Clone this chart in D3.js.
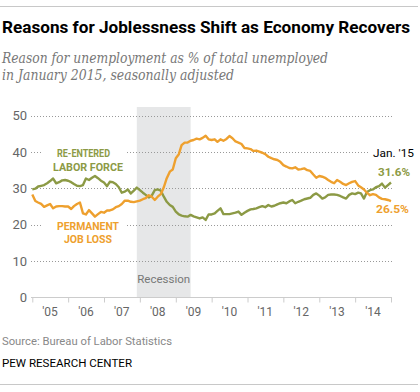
<!DOCTYPE html>
<html><head><meta charset="utf-8">
<script src="https://cdn.jsdelivr.net/npm/d3@7"></script>
<style>body{margin:0;background:#fff}svg{display:block}</style>
</head><body>
<svg id="c" width="420" height="392"></svg>
<script>
const startYear = 2005;
const yearLabels = ["'05","'06","'07","'08","'09","'10","'11","'12","'13","'14"];
const yTicks = [0,10,20,30,40,50];
const recession = [new Date(2007,11,1), new Date(2009,5,1)];
// Monthly values, Jan 2005 .. Jan 2015
const reentered = [
29.7,29.9,30.5,30.7,30.9,31.4,32.0,32.7,31.4,31.7,32.2,32.3,
32.1,31.7,31.2,30.7,30.6,30.9,32.7,32.3,32.9,33.4,32.8,32.1,
31.6,30.6,31.8,31.7,31.2,30.3,28.8,29.1,29.7,28.6,29.4,30.2,
29.5,28.8,28.2,27.5,28.0,29.5,29.7,29.4,27.7,26.3,25.4,24.9,
23.6,22.8,22.5,22.3,22.2,22.7,22.3,22.0,21.7,22.0,21.3,22.8,
22.8,23.1,23.8,24.5,22.9,22.9,22.9,23.1,23.3,23.6,22.7,23.3,
23.8,24.2,24.3,24.5,24.8,25.1,24.8,25.4,25.0,25.2,25.6,25.9,
26.1,25.9,26.4,26.8,25.9,26.3,26.6,27.0,27.2,27.4,28.2,28.6,
28.0,27.2,27.5,28.2,28.3,28.3,28.2,27.9,27.5,27.2,28.2,28.6,
28.4,28.8,28.6,27.2,29.0,29.5,29.7,30.3,30.6,31.3,30.2,30.9,
31.6];
const permanent = [
28.3,26.5,26.1,25.7,24.9,25.3,25.7,24.5,25.0,25.1,25.1,25.0,
25.0,24.3,25.1,25.7,26.1,23.1,22.8,24.0,23.1,22.2,22.9,23.5,
23.3,23.9,23.9,24.2,24.8,25.1,25.7,26.6,26.6,26.3,26.2,26.4,
26.6,27.0,27.3,28.1,27.7,26.8,27.7,28.4,30.3,32.8,34.6,35.2,
38.3,39.4,41.9,42.6,42.6,43.1,43.3,43.7,43.5,43.9,44.5,43.5,
43.3,43.5,42.8,43.5,43.1,43.6,44.4,43.8,42.9,42.6,42.2,41.1,
41.0,40.8,40.3,40.4,40.1,39.8,39.4,38.7,38.3,38.0,37.8,37.3,
36.4,36.0,35.6,35.5,35.8,35.2,35.3,35.5,35.0,34.8,33.8,32.9,
33.4,33.2,32.9,32.3,31.8,31.4,32.3,31.8,31.2,30.9,31.4,31.8,
32.0,30.8,30.3,29.7,28.8,28.1,28.4,28.2,27.5,27.1,27.0,26.8,
26.5];

const GREEN = "#8c9a45", ORANGE = "#eea02e";
const svg = d3.select("#c");
const F = "Roboto, 'Liberation Sans', Arial, sans-serif";

function fit(sel, w){ sel.attr("textLength", w).attr("lengthAdjust","spacingAndGlyphs"); return sel; }

// top and bottom rules
svg.append("line").attr("x1",0).attr("x2",418).attr("y1",6.5).attr("y2",6.5).attr("stroke","#c8c8c8");
svg.append("line").attr("x1",0).attr("x2",418).attr("y1",384.5).attr("y2",384.5).attr("stroke","#c8c8c8");

// title: natural width kept inside the frame, then spread to the reference width
const title = svg.append("text").attr("x",2).attr("y",33).attr("font-family",F).attr("font-weight",700)
  .attr("font-size",18).attr("fill","#000").text("Reasons for Joblessness Shift as Economy Recovers");
{
  const nat = title.node().getComputedTextLength();
  if (nat > 408) title.attr("font-size", 18*408/nat);
  fit(title, 408);
}
const SERIF = "'DejaVu Serif', Georgia, serif";
fit(svg.append("text").attr("x",2).attr("y",63).attr("font-family",SERIF).attr("font-style","italic")
  .attr("font-size",14).attr("fill","#777").text("Reason for unemployment as % of total unemployed"),326);
fit(svg.append("text").attr("x",2).attr("y",80).attr("font-family",SERIF).attr("font-style","italic")
  .attr("font-size",14).attr("fill","#777").text("in January 2015, seasonally adjusted"),232);

const x = d3.scaleTime().domain([new Date(startYear,0,1), new Date(startYear+10,0,1)]).range([32.3,391]);
const y = d3.scaleLinear().domain([0,50]).range([297.3,115.7]);
const dates = reentered.map((_,i)=>new Date(startYear,i,1));

// recession shading
svg.append("rect").attr("x",x(recession[0])).attr("width",x(recession[1])-x(recession[0]))
  .attr("y",107).attr("height",y(0)-107).attr("fill","#e6e7e8");
svg.append("text").attr("x",(x(recession[0])+x(recession[1]))/2).attr("y",283).attr("text-anchor","middle")
  .attr("font-family",F).attr("font-size",11.5).attr("fill","#777").text("Recession");

// gridlines
const gx0 = 31, gx1 = 392;
yTicks.filter(d=>d>0).forEach(d=>{
  svg.append("line").attr("x1",gx0).attr("x2",gx1).attr("y1",Math.round(y(d))+0.5).attr("y2",Math.round(y(d))+0.5)
    .attr("stroke","#999").attr("stroke-width",1).attr("stroke-dasharray","1,2");
});
// y labels
const yAxis = d3.axisLeft(y).tickValues(yTicks).tickSize(0).tickPadding(0);
const ya = svg.append("g").attr("transform","translate(27,0)").call(yAxis);
ya.select(".domain").remove();
ya.selectAll("text").attr("font-family",F).attr("font-size",13).attr("fill","#666");

// x axis
const xTickDates = d3.range(0,11).map(i=>new Date(startYear+i,0,1));
const xAxis = d3.axisBottom(x).tickValues(xTickDates).tickSize(5).tickFormat("");
const xa = svg.append("g").attr("transform",`translate(0,${Math.round(y(0))+0.5})`).call(xAxis);
xa.select(".domain").attr("d",`M${gx0},0H${gx1}`).attr("stroke","#ccc");
xa.selectAll(".tick line").attr("stroke","#ccc");
yearLabels.forEach((t,i)=>{
  svg.append("text").attr("x",x(new Date(startYear+i,6,1))).attr("y",316).attr("text-anchor","middle")
    .attr("font-family",F).attr("font-size",12).attr("fill","#666").text(t);
});

// white boxes to break gridlines behind labels
[[42,146,85,10],[42,219,85,10],[368,146,52,10]].forEach(r=>{
  svg.append("rect").attr("x",r[0]).attr("y",r[1]).attr("width",r[2]).attr("height",r[3]).attr("fill","#fff");
});

// lines
const line = d3.line().x((d,i)=>x(dates[i])).y(d=>y(d)).curve(d3.curveLinear);
svg.append("path").datum(reentered).attr("d",line).attr("fill","none").attr("stroke",GREEN)
  .attr("stroke-width",2.4).attr("stroke-linejoin","round");
svg.append("path").datum(permanent).attr("d",line).attr("fill","none").attr("stroke",ORANGE)
  .attr("stroke-width",2.4).attr("stroke-linejoin","round");

// series labels
function lab(txt, cx, by, col, w){
  return fit(svg.append("text").attr("x",cx).attr("y",by).attr("text-anchor","middle").attr("font-family",F)
    .attr("font-weight",700).attr("font-size",10.5).attr("fill",col).text(txt), w);
}
lab("RE-ENTERED",83.5,156.7,GREEN,53);
lab("LABOR FORCE",88,171,GREEN,70);
lab("PERMANENT",88,230,ORANGE,62);
lab("JOB LOSS",88,243.3,ORANGE,48);

fit(svg.append("text").attr("x",373).attr("y",156.7).attr("font-family",F).attr("font-size",11.5)
  .attr("fill","#000").text("Jan. '15"),41);
fit(svg.append("text").attr("x",378).attr("y",176).attr("font-family",F).attr("font-weight",700).attr("font-size",11)
  .attr("fill",GREEN).text(reentered[reentered.length-1].toFixed(1)+"%"),32);
fit(svg.append("text").attr("x",376).attr("y",212.7).attr("font-family",F).attr("font-weight",700).attr("font-size",11)
  .attr("fill",ORANGE).text(permanent[permanent.length-1].toFixed(1)+"%"),33);

// footer
fit(svg.append("text").attr("x",2).attr("y",345).attr("font-family",F).attr("font-size",11)
  .attr("fill","#888").text("Source: Bureau of Labor Statistics"),170);
fit(svg.append("text").attr("x",2).attr("y",367.3).attr("font-family",F).attr("font-size",10.5)
  .attr("fill","#000").text("PEW RESEARCH CENTER"),130);
</script>
</body></html>
